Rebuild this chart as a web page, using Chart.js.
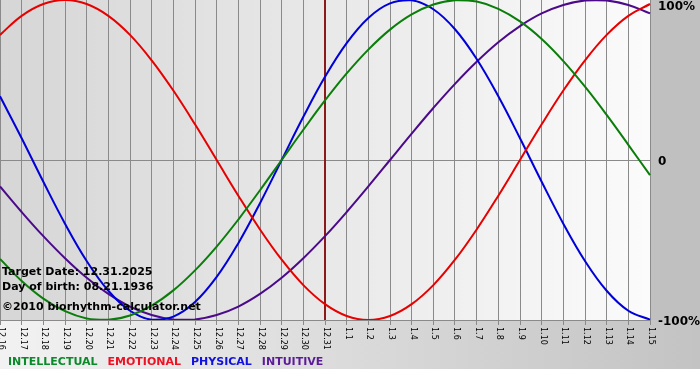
<!DOCTYPE html>
<html>
<head>
<meta charset="utf-8">
<script src="https://cdn.jsdelivr.net/npm/chart.js@4"></script>
<style>
html, body { margin: 0; padding: 0; background: #fff; }
#wrap { width: 700px; height: 380px; }
</style>
</head>
<body>
<div id="wrap"><canvas id="myChart" width="700" height="380"></canvas></div>
<script>
const days = ['12.16','12.17','12.18','12.19','12.20','12.21','12.22','12.23','12.24','12.25','12.26','12.27','12.28','12.29','12.30','12.31',
	'1.1','1.2','1.3','1.4','1.5','1.6','1.7','1.8','1.9','1.10','1.11','1.12','1.13','1.14','1.15'];

const intellectual = [-0.618,-0.756,-0.866,-0.945,-0.990,-0.999,-0.972,-0.910,-0.815,-0.690,-0.541,-0.372,-0.189,0,0.189,0.372,
	0.541,0.690,0.815,0.910,0.972,0.999,0.990,0.945,0.866,0.756,0.618,0.458,0.282,0.095,-0.095];
const emotional = [0.782,0.901,0.975,1,0.975,0.901,0.782,0.623,0.434,0.223,0,-0.223,-0.434,-0.623,-0.782,-0.901,
	-0.975,-1,-0.975,-0.901,-0.782,-0.623,-0.434,-0.223,0,0.223,0.434,0.623,0.782,0.901,0.975];
const physical = [0.398,0.136,-0.136,-0.398,-0.631,-0.817,-0.942,-0.998,-0.979,-0.888,-0.731,-0.520,-0.270,0,0.270,0.520,
	0.731,0.888,0.979,0.998,0.942,0.817,0.631,0.398,0.136,-0.136,-0.398,-0.631,-0.817,-0.942,-0.998];
const intuitive = [-0.165,-0.325,-0.476,-0.614,-0.736,-0.837,-0.916,-0.969,-0.997,-0.997,-0.969,-0.916,-0.837,-0.736,-0.614,-0.476,
	-0.325,-0.165,0,0.165,0.325,0.476,0.614,0.736,0.837,0.916,0.969,0.997,0.997,0.969,0.916];

const seriesNames = ['INTELLECTUAL', 'EMOTIONAL', 'PHYSICAL', 'INTUITIVE'];
const yTicks = [1, 0, -1];
const yTickLabels = ['100%', '0', '-100%'];
const targetDay = '12.31';
const infoLines = ['Target Date: 12.31.2025', 'Day of birth: 08.21.1936', '\u00a92010 biorhythm-calculator.net'];

const colors = ['#0a7d0a', '#e60000', '#0000d8', '#4b0a8a'];
const legendColors = ['#0a8a2a', '#ee1122', '#1010e0', '#5a1a9a'];

// fonds : zone du graphique en dégradé, bande droite grise
const backgroundPlugin = {
	id: 'bgFill',
	beforeDraw(chart) {
		const ctx = chart.ctx, a = chart.chartArea;
		ctx.save();
		ctx.fillStyle = '#ffffff';
		ctx.fillRect(0, 0, chart.width, chart.height);
		let g = ctx.createLinearGradient(0, 0, chart.width, 0);
		g.addColorStop(0, '#f2f2f2');
		g.addColorStop(1, '#c3c3c3');
		ctx.fillStyle = g;
		ctx.fillRect(0, a.bottom, chart.width, 369 - a.bottom);
		ctx.fillStyle = '#c0c0c0';
		ctx.fillRect(a.right, 0, chart.width - a.right, a.bottom);
		g = ctx.createLinearGradient(a.left, 0, a.right, 0);
		g.addColorStop(0, '#d6d6d6');
		g.addColorStop(1, '#fbfbfb');
		ctx.fillStyle = g;
		ctx.fillRect(a.left, a.top, a.right - a.left, a.bottom - a.top);
		ctx.restore();
	}
};

const targetLinePlugin = {
	id: 'targetLine',
	beforeDatasetsDraw(chart) {
		const ctx = chart.ctx, a = chart.chartArea;
		const x = chart.scales.x.getPixelForValue(days.indexOf(targetDay));
		ctx.save();
		ctx.strokeStyle = '#8b1a1a';
		ctx.lineWidth = 2;
		ctx.beginPath();
		ctx.moveTo(x, a.top);
		ctx.lineTo(x, a.bottom);
		ctx.stroke();
		ctx.restore();
	}
};

const textPlugin = {
	id: 'texts',
	afterDraw(chart) {
		const ctx = chart.ctx, a = chart.chartArea;
		const xs = chart.scales.x, ys = chart.scales.y;
		ctx.save();
		// étiquettes des jours, verticales
		ctx.fillStyle = '#000';
		ctx.font = '8px "DejaVu Sans"';
		ctx.textAlign = 'left';
		ctx.textBaseline = 'middle';
		days.forEach((d, i) => {
			ctx.save();
			ctx.translate(xs.getPixelForValue(i) + 1, a.bottom + 7);
			ctx.rotate(Math.PI / 2);
			ctx.fillText(d, 0, 0);
			ctx.restore();
		});
		// axe droit
		ctx.font = 'bold 12px "DejaVu Sans"';
		yTicks.forEach((v, i) => {
			let y = ys.getPixelForValue(v) + 2;
			if (y < 7) y = 7;
			ctx.fillText(yTickLabels[i], a.right + 8, y);
		});
		// infos
		ctx.font = 'bold 11px "DejaVu Sans"';
		ctx.fillText(infoLines[0], 2, 272);
		ctx.fillText(infoLines[1], 2, 287);
		ctx.fillText(infoLines[2], 2, 307);
		// légende
		ctx.font = 'bold 11px "DejaVu Sans"';
		let x = 8;
		seriesNames.forEach((n, i) => {
			ctx.fillStyle = legendColors[i];
			ctx.fillText(n, x, 362);
			x += ctx.measureText(n).width + 10;
		});
		ctx.restore();
	}
};

const seriesData = [intellectual, emotional, physical, intuitive];

const ctx = document.getElementById('myChart').getContext('2d');
const myChart = new Chart(ctx, {
	type: 'line',
	data: {
		labels: days,
		datasets: seriesNames.map((n, i) => ({
			label: n,
			data: seriesData[i],
			borderColor: colors[i],
			borderWidth: 2,
			pointRadius: 0,
			tension: 0.4,
			fill: false
		}))
	},
	options: {
		responsive: false,
		animation: false,
		layout: { padding: { left: 0, top: 0, right: 50, bottom: 55 } },
		plugins: { legend: { display: false }, tooltip: { enabled: false } },
		scales: {
			x: {
				type: 'category',
				offset: false,
				grid: { color: '#8a8a8a', lineWidth: 1, drawTicks: true, tickLength: 5 },
				border: { color: '#8a8a8a' },
				ticks: { display: false },
				afterFit(scale) { scale.height = 5; }
			},
			y: {
				position: 'right',
				min: -1,
				max: 1,
				grid: {
					color: c => (c.tick && c.tick.value === 0) ? '#8a8a8a' : 'rgba(0,0,0,0)',
					drawTicks: false
				},
				border: { display: false },
				ticks: { display: false },
				afterBuildTicks(scale) { scale.ticks = yTicks.map(v => ({ value: v })); },
				afterFit(scale) { scale.width = 0; }
			}
		}
	},
	plugins: [backgroundPlugin, targetLinePlugin, textPlugin]
});
</script>
</body>
</html>
